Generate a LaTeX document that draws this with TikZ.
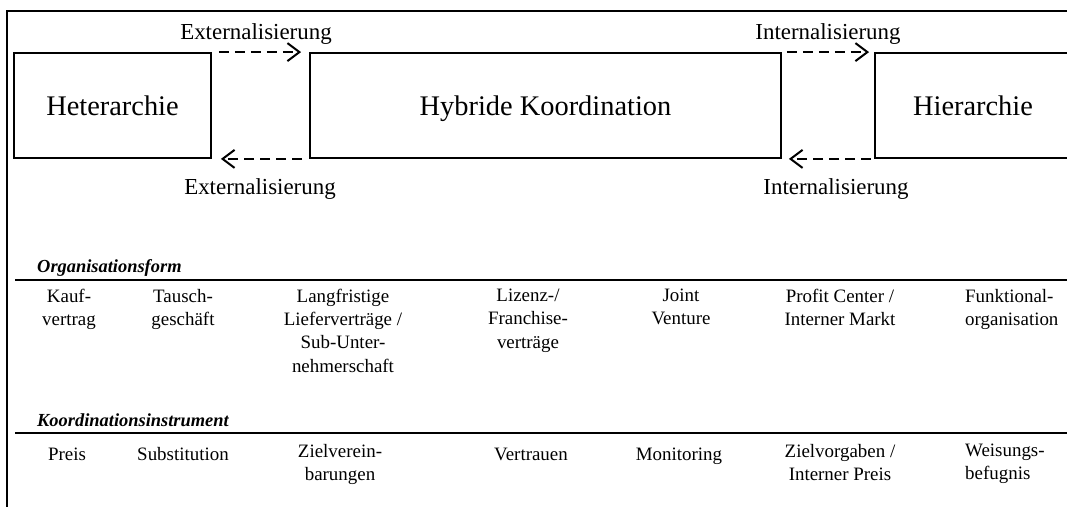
\documentclass[tikz,border=0pt]{standalone}
\usepackage{fontspec}
\setmainfont{Liberation Serif}
\usetikzlibrary{arrows.meta}
\begin{document}
\begin{tikzpicture}[x=1bp,y=-1bp,
  frameline/.style={line width=1.8bp},
  mainbox/.style={draw, line width=1.8bp, rectangle, inner sep=0pt,
    minimum height=105bp, text height=19.5bp, text depth=0bp,
    font=\fontsize{28.5}{34}\selectfont},
  flowarrow/.style={line width=2bp, dash pattern=on 10bp off 6bp,
    -{Straight Barb[length=12bp,width=18bp,line width=2bp]}},
  flowlabel/.style={font=\fontsize{23}{27}\selectfont, inner sep=0pt, anchor=base},
  rowhead/.style={font=\fontsize{18.5}{22}\selectfont\bfseries\itshape, inner sep=0pt, anchor=base west},
  rule/.style={line width=2.8bp},
  cell/.style={font=\fontsize{19}{23.3}\selectfont, inner sep=0pt, align=center,
    anchor=north, execute at begin node=\strut},
  leftcell/.style={cell, align=left, anchor=north west}
]
\clip (0,0) rectangle (1067,507);

% outer frame (top and left edge)
\coordinate (fbl) at (7,507);
\coordinate (ftl) at (7,11);
\coordinate (ftr) at (1067,11);
\draw[frameline] (fbl) -- (ftl) -- (ftr);

% the three forms of coordination
\node[mainbox, minimum width=197bp] (het) at (112.5,105.5) {Heterarchie};
\node[mainbox, minimum width=471bp] (hyb) at (545.5,105.5) {Hybride Koordination};
\node[mainbox, minimum width=196bp] (hie) at (973,105.5) {Hierarchie};

% transitions between the forms
\draw[flowarrow] ([xshift=7bp]het.north east) -- ([xshift=-8bp]hyb.north west);
\draw[flowarrow] ([xshift=-7bp]hyb.south west) -- ([xshift=9bp]het.south east);
\draw[flowarrow] ([xshift=5bp]hyb.north east) -- ([xshift=-5bp]hie.north west);
\draw[flowarrow] ([xshift=-3bp]hie.south west) -- ([xshift=7bp]hyb.south east);

\node[flowlabel] (ext1) at (256,40) {Externalisierung};
\node[flowlabel] (ext2) at (260,195) {Externalisierung};
\node[flowlabel] (int1) at (828,40) {Internalisierung};
\node[flowlabel] (int2) at (836,195) {Internalisierung};

% table: organisational forms
\node[rowhead] (orghead) at (37,273) {Organisationsform};
\coordinate (orgl) at (15,280);
\coordinate (orgr) at (1067,280);
\draw[rule] (orgl) -- (orgr);

% first text line of a cell has its baseline 0.7 baselineskip below the node's top
\node[cell] (o1) at (69,289) {Kauf-\\vertrag};
\node[cell] (o2) at (183,289) {Tausch-\\geschäft};
\node[cell] (o3) at (343,289) {Langfristige\\Lieferverträge /\\Sub-Unter-\\nehmerschaft};
\node[cell] (o4) at (528,289) {Lizenz-/\\Franchise-\\verträge};
\node[cell] (o5) at (681,289) {Joint\\Venture};
\node[cell] (o6) at (840,289) {Profit Center /\\Interner Markt};
\node[leftcell] (o7) at (965,289) {Funktional-\\organisation};

% table: coordination instruments
\node[rowhead] (koohead) at (37,426) {Koordinationsinstrument};
\coordinate (kool) at (15,433);
\coordinate (koor) at (1067,433);
\draw[rule] (kool) -- (koor);

\node[cell] (k1) at (67,444) {Preis};
\node[cell] (k2) at (183,444) {Substitution};
\node[cell] (k3) at (340,444) {Zielverein-\\barungen};
\node[cell] (k4) at (531,444) {Vertrauen};
\node[cell] (k5) at (679,444) {Monitoring};
\node[cell] (k6) at (840,444) {Zielvorgaben /\\Interner Preis};
\node[leftcell] (k7) at (965,444) {Weisungs-\\befugnis};
\end{tikzpicture}
\end{document}
